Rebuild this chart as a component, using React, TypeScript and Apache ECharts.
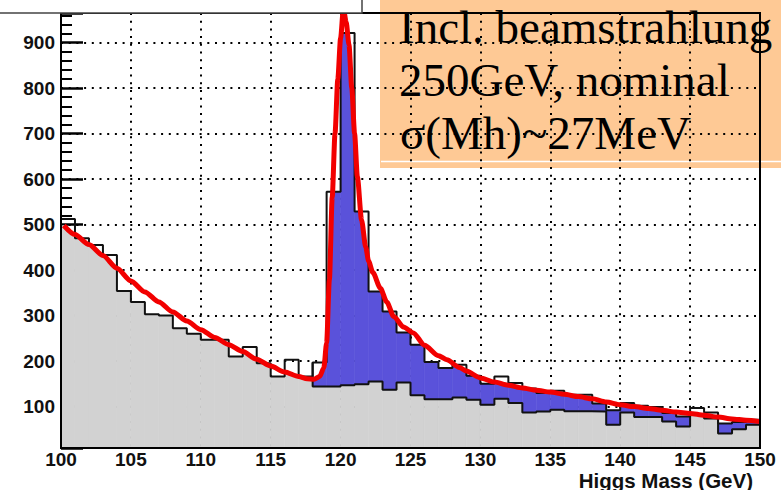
import React, { useEffect, useRef } from "react";
import * as echarts from "echarts";

// Histogram bin edges (GeV)
const binEdges = [
  100, 101, 102, 103, 104, 105, 106, 107, 108, 109, 110, 111, 112, 113, 114, 115, 116,
  117, 118, 119, 120, 121, 122, 123, 124, 125, 126, 127, 128, 129, 130, 131, 132, 133,
  134, 135, 136, 137, 138, 139, 140, 141, 142, 143, 144, 145, 146, 147, 148, 149, 150,
];

// Total (signal + background) counts per bin
const totalCounts = [
  512, 470, 455, 433, 354, 330, 303, 300, 272, 260, 247, 247, 210, 231, 195, 166, 203,
  166, 197, 572, 921, 529, 353, 309, 263, 236, 198, 185, 192, 168, 150, 166, 152, 140,
  130, 135, 126, 126, 107, 92, 108, 102, 99, 86, 78, 97, 87, 63, 66, 71,
];

// Background counts per bin (only shown from 118 GeV)
const bgCounts: (number | null)[] = [
  null, null, null, null, null, null, null, null, null, null, null, null, null, null,
  null, null, null, null,
  144, 144, 147, 149, 155, 137, 153, 125, 116, 116, 120, 115, 104, 117, 108, 87, 89, 93,
  90, 90, 89, 60, 87, 77, 77, 67, 56, 83, 74, 41, 50, 60,
];

// Fit curve
const fitMass = [
  100.2, 101, 102, 103, 104, 105, 106, 107, 108, 109, 110, 111, 112, 113, 114, 115, 116,
  117, 117.6, 118.1, 118.5, 118.8, 119.0, 119.2, 119.4, 119.6, 119.8, 120.0, 120.2, 120.4,
  120.6, 120.8, 121.0, 121.2, 121.5, 121.8, 122.0, 122.3, 122.85, 123.3, 123.8, 124.5,
  125.2, 126, 127, 127.6, 128.5, 129, 130, 131, 132, 133, 134, 135, 136, 137, 138, 139,
  140, 141, 142, 143, 144, 145, 146, 147, 148, 149, 150,
];
const fitCounts = [
  498, 478, 456, 432, 404, 376, 352, 330, 308, 288, 269, 252, 236, 221, 204, 189, 176,
  166, 161, 160, 166, 185, 240, 380, 560, 700, 820, 910, 975, 945,
  895, 800, 700, 605, 510, 450, 420, 395, 360, 330, 298, 275,
  262, 235, 212, 203, 186, 178, 163, 154, 147, 141, 136, 132, 127, 122, 117, 110,
  104, 100, 96, 92, 88, 85, 81, 77, 73, 70, 67,
];

const Y_MIN = 9;
const Y_MAX = 965;

const GRAY = "#d2d2d2";
const BLUE = "#5a52da";

function fitAt(x: number): number {
  if (x <= fitMass[0]) return fitCounts[0];
  const n = fitMass.length;
  if (x >= fitMass[n - 1]) return fitCounts[n - 1];
  for (let k = 1; k < n; k++) {
    if (x <= fitMass[k]) {
      const t = (x - fitMass[k - 1]) / (fitMass[k] - fitMass[k - 1]);
      return fitCounts[k - 1] + t * (fitCounts[k] - fitCounts[k - 1]);
    }
  }
  return fitCounts[n - 1];
}

export default function App() {
  const ref = useRef<HTMLDivElement>(null);

  useEffect(() => {
    if (!ref.current) return;
    const chart = echarts.init(ref.current, null, { renderer: "svg" });

    const totalLine = binEdges.map((x, i) => [x, totalCounts[Math.min(i, totalCounts.length - 1)]]);
    const firstBg = bgCounts.findIndex((v) => v != null);
    const bgLine: number[][] = [[binEdges[firstBg], totalCounts[firstBg]]];
    for (let i = firstBg; i < bgCounts.length; i++) bgLine.push([binEdges[i], bgCounts[i] as number]);
    bgLine.push([binEdges[binEdges.length - 1], bgCounts[bgCounts.length - 1] as number]);

    const dotted = { type: [2, 5.7] as any, color: "#000", width: 2 };
    const labelFont = {
      fontFamily: "Liberation Sans",
      fontWeight: "bold" as const,
      fontSize: 19,
      color: "#111",
    };
    const serif = {
      fontFamily: "Liberation Serif",
      fontSize: 47,
      fill: "#000",
      verticalAlign: "middle",
    };

    const option: any = {
      animation: false,
      backgroundColor: "#ffffff",
      grid: { left: 61, top: 13, right: 21, bottom: 42, containLabel: false },
      xAxis: {
        type: "value",
        min: 100,
        max: 150,
        interval: 5,
        axisLine: { show: false },
        axisTick: { show: false },
        axisLabel: { ...labelFont, margin: 2 },
        splitLine: { show: true, lineStyle: dotted },
      },
      yAxis: {
        type: "value",
        min: Y_MIN,
        max: Y_MAX,
        splitNumber: 10,
        axisLine: { show: false },
        axisTick: { show: true, inside: true, length: 22, lineStyle: { color: "#000", width: 2.5 } },
        minorTick: { show: true, splitNumber: 5, length: 11, lineStyle: { color: "#000", width: 2 } },
        axisLabel: {
          ...labelFont,
          margin: 6,
          showMinLabel: false,
          showMaxLabel: false,
          formatter: (v: number) => (v % 100 === 0 ? String(v) : ""),
        },
        splitLine: { show: true, lineStyle: dotted },
      },
      series: [
        {
          type: "custom",
          clip: true,
          z: 2,
          data: totalCounts.map((t, i) => [binEdges[i], t]),
          encode: { x: 0, y: 1 },
          renderItem: (params: any, api: any) => {
            const i = params.dataIndex;
            const x0 = binEdges[i];
            const x1 = binEdges[i + 1];
            const T = totalCounts[i];
            const B = bgCounts[i];
            const xs = [x0];
            fitMass.forEach((x) => {
              if (x > x0 && x < x1) xs.push(x);
            });
            xs.push(x1);
            const top: number[][] = [];
            for (let k = 0; k < xs.length; k++) {
              const xa = xs[k];
              const fa = fitAt(xa);
              if (k > 0) {
                const xp = xs[k - 1];
                const fp = fitAt(xp);
                if ((fp - T) * (fa - T) < 0) {
                  const xc = xp + ((T - fp) / (fa - fp)) * (xa - xp);
                  top.push(api.coord([xc, T]));
                }
              }
              top.push(api.coord([xa, Math.min(T, fa)]));
            }
            const children: any[] = [];
            if (B == null) {
              children.push({
                type: "polygon",
                shape: { points: [...top, api.coord([x1, Y_MIN]), api.coord([x0, Y_MIN])] },
                style: { fill: GRAY, stroke: GRAY, lineWidth: 0.6 },
              });
            } else {
              children.push({
                type: "polygon",
                shape: {
                  points: [api.coord([x0, Y_MIN]), api.coord([x1, Y_MIN]), api.coord([x1, B]), api.coord([x0, B])],
                },
                style: { fill: GRAY, stroke: GRAY, lineWidth: 0.6 },
              });
              children.push({
                type: "polygon",
                shape: { points: [...top, api.coord([x1, B]), api.coord([x0, B])] },
                style: { fill: BLUE, stroke: BLUE, lineWidth: 0.6 },
              });
            }
            return { type: "group", children };
          },
        },
        {
          type: "line",
          step: "end",
          data: totalLine,
          symbol: "none",
          z: 3,
          lineStyle: { color: "#111", width: 2 },
        },
        {
          type: "line",
          step: "end",
          data: bgLine,
          symbol: "none",
          z: 3,
          lineStyle: { color: "#111", width: 2 },
        },
        {
          type: "line",
          data: fitMass.map((x, i) => [x, fitCounts[i]]),
          smooth: 0.25,
          smoothMonotone: "x",
          symbol: "none",
          z: 4,
          lineStyle: { color: "#f20000", width: 5 },
        },
      ],
      graphic: [
        {
          type: "rect",
          z: 10,
          shape: { x: 61, y: 13, width: 699, height: 435 },
          style: { fill: "none", stroke: "#000", lineWidth: 2 },
          silent: true,
        },
        {
          type: "rect",
          z: 11,
          shape: { x: -2, y: -10, width: 364, height: 23 },
          style: { fill: "#fff", stroke: "#444", lineWidth: 1.5 },
          silent: true,
        },
        {
          type: "text",
          z: 11,
          x: 753,
          y: 480,
          style: {
            text: "Higgs Mass (GeV)",
            fontFamily: "Liberation Sans",
            fontWeight: "bold",
            fontSize: 20.5,
            fill: "#111",
            align: "right",
            verticalAlign: "middle",
          },
        },
        {
          type: "group",
          z: 20,
          children: [
            {
              type: "rect",
              shape: { x: 380, y: 0, width: 401, height: 168 },
              style: { fill: "#fec995" },
            },
            {
              type: "line",
              shape: { x1: 381, y1: 161.5, x2: 781, y2: 161.5 },
              style: { stroke: "#fff", lineWidth: 1.5 },
            },
            {
              type: "text",
              x: 399,
              y: 27,
              style: { text: "Incl. beamstrahlung", ...serif },
            },
            {
              type: "text",
              x: 399,
              y: 80,
              style: { text: "250GeV, nominal", ...serif },
            },
            {
              type: "text",
              x: 400,
              y: 133,
              style: { text: "σ(Mh)~27MeV", ...serif },
            },
          ],
        },
      ],
    };

    chart.setOption(option);
    return () => chart.dispose();
  }, []);

  return (
    <div
      ref={ref}
      style={{ position: "fixed", left: 0, top: 0, width: 781, height: 490, background: "#fff" }}
    />
  );
}
